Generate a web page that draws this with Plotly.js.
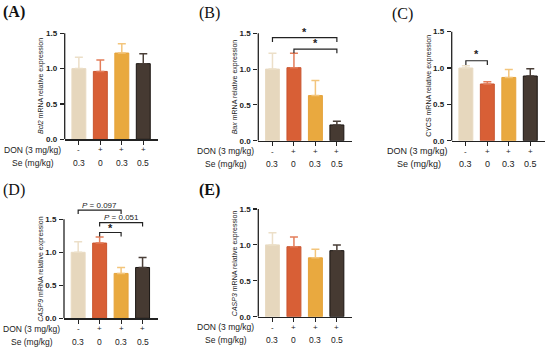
<!DOCTYPE html>
<html><head><meta charset="utf-8">
<script src="https://cdn.plot.ly/plotly-3.0.1.min.js"></script>
<style>html,body{margin:0;padding:0;background:#fff}#chart{width:550px;height:349px}</style>
</head><body><div id="chart"></div>
<script>
// ---------- data ----------
const groups = [0, 1, 2, 3];               // Ctrl, DON, DON+Se0.3, DON+Se0.5
const donLabels = ['-', '+', '+', '+'];
const seLabels = ['0.3', '0', '0.3', '0.5'];
const yTickVals = [0, 0.5, 1.0, 1.5];

const bcl2Mean  = [1.00, 0.96, 1.22, 1.07];
const bcl2SD    = [0.16, 0.16, 0.13, 0.14];
const baxMean   = [1.00, 1.02, 0.63, 0.22];
const baxSD     = [0.22, 0.20, 0.21, 0.05];
const cycsMean  = [1.00, 0.78, 0.87, 0.89];
const cycsSD    = [0.03, 0.03, 0.11, 0.10];
const casp9Mean = [1.00, 1.14, 0.68, 0.77];
const casp9SD   = [0.16, 0.09, 0.09, 0.15];
const casp3Mean = [1.00, 0.975, 0.82, 0.92];
const casp3SD   = [0.17, 0.135, 0.12, 0.08];

// significance brackets: [from, to, level, label, labelLevel]
const bcl2Brackets  = [];
const baxBrackets   = [[0, 3, 1.44, '*', 1.52], [1, 3, 1.28, '*', 1.36]];
const cycsBrackets  = [[0, 1, 1.10, '*', 1.19]];
const casp9Brackets = [[0, 2, 1.64, '<i>P</i> = 0.097', 1.71], [1, 3, 1.45, '<i>P</i> = 0.051', 1.525], [1, 2, 1.30, '*', 1.37]];
const casp3Brackets = [];

// ---------- styling ----------
const W = 550, H = 349;
const fillColors = ['#e6d7bd', '#d85f36', '#e9a93f', '#463a32'];
const lineColors = ['#e9dbc3', '#c95530', '#e5a33b', '#1a1512'];
const errColors  = ['#ecdfc8', '#e37d5a', '#f3c57c', '#4a3f38'];
const FONT = 'Liberation Sans, Arial, sans-serif';
const YMAX = 1.8;

const panels = [
  {mean: bcl2Mean,  sd: bcl2SD,  br: bcl2Brackets,  title: '<i>Bcl2</i> mRNA relative expression', letter: '(A)', bold: true,
   left: 64.7, right: 158.3, y0: 139.3, scale: 70.7, lx: 14, ly: 11.5, fs: 8.5},
  {mean: baxMean,   sd: baxSD,   br: baxBrackets,   title: '<i>Bax</i> mRNA relative expression', letter: '(B)', bold: false,
   left: 258.3, right: 351.9, y0: 140.7, scale: 71.6, lx: 209, ly: 13, fs: 8.5},
  {mean: cycsMean,  sd: cycsSD,  br: cycsBrackets,  title: 'CYCS mRNA relative expression', letter: '(C)', bold: false,
   left: 451.7, right: 545.3, y0: 140.7, scale: 72.7, lx: 402, ly: 14, fs: 9},
  {mean: casp9Mean, sd: casp9SD, br: casp9Brackets, title: '<i>CASP9</i> mRNA relative expression', letter: '(D)', bold: false,
   left: 64.0, right: 157.6, y0: 318.3, scale: 66.0, lx: 14, ly: 190, fs: 8.5},
  {mean: casp3Mean, sd: casp3SD, br: casp3Brackets, title: '<i>CASP3</i> mRNA relative expression', letter: '(E)', bold: true,
   left: 258.3, right: 351.9, y0: 316.7, scale: 71.8, lx: 209, ly: 190, fs: 8.5}
];

const data = [];
const layout = {
  width: W, height: H,
  margin: {l: 0, r: 0, t: 0, b: 0},
  paper_bgcolor: '#fff', plot_bgcolor: 'rgba(0,0,0,0)',
  showlegend: false, barmode: 'overlay',
  font: {family: FONT, color: '#222'},
  shapes: [], annotations: []
};

panels.forEach((p, k) => {
  const n = k === 0 ? '' : String(k + 1);
  const xa = 'x' + n, ya = 'y' + n;
  const top = p.y0 - YMAX * p.scale;
  layout['xaxis' + n] = {
    domain: [p.left / W, p.right / W], anchor: ya,
    range: [-0.66, 3.70], showgrid: false, zeroline: false,
    showline: true, linecolor: '#222', linewidth: 1.3,
    tickmode: 'array', tickvals: groups, ticks: 'outside', ticklen: 4, tickwidth: 1.1, tickcolor: '#222',
    showticklabels: false, fixedrange: true
  };
  layout['yaxis' + n] = {
    domain: [1 - p.y0 / H, 1 - top / H], anchor: xa,
    range: [0, YMAX], showgrid: false, zeroline: false, showline: false,
    tickmode: 'array', tickvals: yTickVals, tickformat: '.1f',
    ticks: 'outside', ticklen: 4, tickwidth: 1.1, tickcolor: '#222',
    tickfont: {size: 8, family: FONT, color: '#222', weight: 'bold'}, ticklabelstandoff: 1,
    fixedrange: true
  };
  // y axis line only up to 1.5
  layout.shapes.push({type: 'line', xref: xa + ' domain', yref: ya, x0: 0, x1: 0, y0: 0, y1: yTickVals[yTickVals.length - 1],
    line: {color: '#222', width: 1.3}});

  groups.forEach((g, i) => {
    data.push({
      type: 'bar', x: [g], y: [p.mean[i]], xaxis: xa, yaxis: ya, width: 0.65,
      marker: {color: fillColors[i], line: {color: lineColors[i], width: 1}},
      error_y: {type: 'data', symmetric: false, array: [p.sd[i]], arrayminus: [0],
        color: errColors[i], thickness: 1.5, width: 4},
      hoverinfo: 'skip'
    });
    layout.annotations.push({xref: xa, yref: 'paper', x: g, y: 1 - (p.y0 + 10.5) / H, text: donLabels[i],
      showarrow: false, xanchor: 'center', yanchor: 'middle', font: {size: 8, family: FONT, color: '#222'}});
    layout.annotations.push({xref: xa, yref: 'paper', x: g, y: 1 - (p.y0 + 23.5) / H, text: seLabels[i],
      showarrow: false, xanchor: 'center', yanchor: 'middle', font: {size: p.fs, family: FONT, color: '#222'}});
  });

  // row labels
  layout.annotations.push({xref: 'paper', yref: 'paper', x: (p.left - 2) / W, y: 1 - (p.y0 + 10.5) / H,
    text: 'DON (3 mg/kg)', showarrow: false, xanchor: 'right', yanchor: 'middle', font: {size: p.fs, family: FONT, color: '#222'}});
  layout.annotations.push({xref: 'paper', yref: 'paper', x: (p.left - 9) / W, y: 1 - (p.y0 + 23.5) / H,
    text: 'Se (mg/kg)', showarrow: false, xanchor: 'right', yanchor: 'middle', font: {size: p.fs, family: FONT, color: '#222'}});

  // y title
  layout.annotations.push({xref: 'paper', yref: ya, x: (p.left - 23) / W, y: 0.75, text: p.title, textangle: -90,
    showarrow: false, xanchor: 'center', yanchor: 'middle', font: {size: 7, family: FONT, color: '#222'}});

  // panel letter
  layout.annotations.push({xref: 'paper', yref: 'paper', x: p.lx / W, y: 1 - p.ly / H, text: p.letter,
    showarrow: false, xanchor: 'center', yanchor: 'middle',
    font: {size: 16, family: 'Liberation Serif, Times New Roman, serif', color: '#111', weight: p.bold ? 'bold' : 'normal'}});

  // significance brackets
  const d = 0.06;
  p.br.forEach(b => {
    const [a, c, lev, lab, labY] = b;
    layout.shapes.push({type: 'path', xref: xa, yref: ya,
      path: `M ${a},${lev - d} L ${a},${lev} L ${c},${lev} L ${c},${lev - d}`,
      line: {color: '#222', width: 1.2}});
    const star = lab === '*';
    layout.annotations.push({xref: xa, yref: ya, x: (a + c) / 2, y: labY, text: lab, showarrow: false,
      xanchor: 'center', yanchor: 'middle',
      font: {size: star ? 11 : 8, family: FONT, color: '#222', weight: star ? 'bold' : 'normal'}});
  });
});

Plotly.newPlot('chart', data, layout, {staticPlot: true, displayModeBar: false});
</script>
</body></html>
